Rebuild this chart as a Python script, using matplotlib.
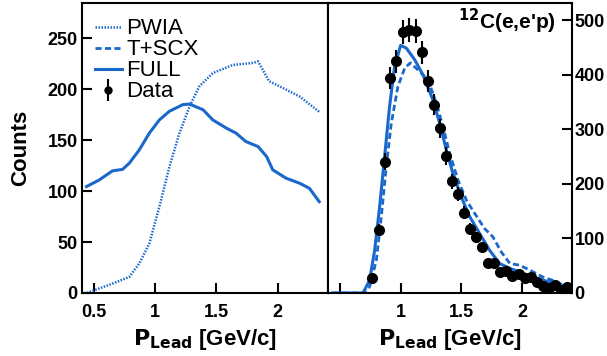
import matplotlib.pyplot as plt
from matplotlib.lines import Line2D

plt.rcParams['font.family'] = ['Liberation Sans', 'DejaVu Sans']

blue = '#1a68cc'

# left panel curves
pwia_x = [0.44, 0.5, 0.65, 0.787, 0.869, 0.951, 1.033, 1.115, 1.197, 1.279, 1.36,
          1.47, 1.634, 1.80, 1.84, 1.93, 2.016, 2.18, 2.34]
pwia_y = [0, 2.7, 9.2, 15.8, 29, 48.6, 84.7, 124, 157, 183, 203,
          216, 224, 226, 227.5, 208, 203, 193, 178]

full_l_x = [0.437, 0.541, 0.65, 0.732, 0.787, 0.869, 0.951, 1.033, 1.115, 1.225, 1.279,
            1.39, 1.47, 1.58, 1.66, 1.74, 1.84, 1.91, 1.96, 2.07, 2.18, 2.26, 2.34]
full_l_y = [104.5, 111, 120, 121.4, 127.5, 140.6, 157, 170, 178.5, 185, 185.6,
            180, 170, 162, 157, 148.8, 143.8, 134, 121, 112.7, 107.8, 102.8, 89.7]

# right panel curves
full_r_x = [0.44, 0.69, 0.744, 0.786, 0.827, 0.868, 0.909, 0.95, 1.0, 1.047, 1.115, 1.184,
            1.266, 1.322, 1.377, 1.431, 1.5, 1.569, 1.651, 1.734, 1.816, 1.9, 1.98,
            2.09, 2.228, 2.366]
full_r_y = [0, 0, 23, 78, 158, 250, 342, 415, 454, 449, 428, 400,
            354, 311, 262, 219, 176, 140, 109, 78, 54, 45, 39,
            29, 20, 11]

scx_x = [0.44, 0.69, 0.744, 0.8, 0.841, 0.882, 0.923, 0.978, 1.033, 1.08, 1.143, 1.225,
         1.294, 1.349, 1.404, 1.473, 1.542, 1.61, 1.692, 1.76, 1.83, 1.9, 1.98,
         2.063, 2.173, 2.256, 2.366]
scx_y = [0, 0, 11, 60, 140, 232, 311, 379, 412, 422, 409, 391,
         348, 305, 256, 207, 170, 146, 118, 103, 75, 54, 51,
         42, 29, 23, 12]

data_x = [0.763, 0.819, 0.868, 0.915, 0.965, 1.019, 1.068, 1.124, 1.173, 1.223, 1.272,
          1.322, 1.371, 1.423, 1.473, 1.522, 1.571, 1.621, 1.673, 1.723, 1.772, 1.822,
          1.871, 1.92, 1.973, 2.022, 2.072, 2.121, 2.171, 2.223, 2.272, 2.322, 2.371]
data_y = [27.6, 115, 241, 394, 425, 479, 483, 481, 441, 389, 345,
          302, 251, 205, 181, 147, 118, 102, 85, 55, 55, 39,
          40.5, 31, 35.6, 28, 29, 20, 13, 10, 14, 6, 11]
data_err = [5, 11, 16, 20, 21, 22, 22, 22, 21, 20, 19,
            17, 16, 14, 13, 12, 11, 10, 9, 7, 7, 6,
            6, 6, 6, 5, 5, 4, 4, 3, 4, 2, 3]

left_xticklabels = ['0.5', '1', '1.5', '2']
right_xticklabels = ['', '1', '1.5', '2']

fig = plt.figure(figsize=(6.07, 3.56), dpi=100)
ax1 = fig.add_axes([0.135, 0.177, 0.405, 0.815])
ax2 = fig.add_axes([0.540, 0.177, 0.402, 0.815])

ax1.plot(pwia_x, pwia_y, color=blue, lw=1.8, ls=(0, (0.6, 0.6)))
ax1.plot(full_l_x, full_l_y, color=blue, lw=2.2)

ax2.plot(scx_x, scx_y, color=blue, lw=2.0, ls=(0, (2.2, 1.2)))
ax2.plot(full_r_x, full_r_y, color=blue, lw=2.2)
ax2.errorbar(data_x, data_y, yerr=data_err, fmt='o', color='black', ms=7,
             elinewidth=1.5, capsize=0, zorder=5)

for ax, labs in ((ax1, left_xticklabels), (ax2, right_xticklabels)):
    ax.set_xlim(0.4, 2.41)
    ax.set_xticks([0.5, 1, 1.5, 2])
    ax.set_xticklabels(labs)
    for s in ax.spines.values():
        s.set_linewidth(1.5)
    ax.tick_params(direction='in', length=7, width=1.5, labelsize=13)
    ax.tick_params(axis='x', pad=8)
    ax.set_xlabel(r'$\mathbf{P_{Lead}}$ [GeV/c]', fontsize=16, fontweight='bold', labelpad=4)

ax1.set_ylim(0, 285)
ax1.set_yticks([0, 50, 100, 150, 200, 250])
ax1.tick_params(axis='y', pad=3)
ax1.set_ylabel('Counts', fontsize=16, fontweight='bold', labelpad=12)

ax2.set_ylim(0, 532)
ax2.set_yticks([0, 100, 200, 300, 400, 500])
ax2.yaxis.tick_right()
ax2.tick_params(axis='y', pad=2)

for ax in (ax1, ax2):
    for lab in ax.get_xticklabels() + ax.get_yticklabels():
        lab.set_fontweight('bold')

ax2.text(0.935, 0.935, r'$^{\mathbf{12}}$' + "C(e,e'p)", transform=ax2.transAxes,
         ha='right', va='center', fontsize=15, fontweight='bold')

handles = [
    Line2D([], [], color=blue, lw=1.8, ls=(0, (0.6, 0.6))),
    Line2D([], [], color=blue, lw=2.0, ls=(0, (2.2, 1.2))),
    Line2D([], [], color=blue, lw=2.2),
    ax2.errorbar([], [], yerr=[], fmt='o', color='black', ms=5, elinewidth=1.5),
]
ax1.legend(handles, ['PWIA', 'T+SCX', 'FULL', 'Data'], loc='upper left',
           bbox_to_anchor=(-0.01, 1.0), frameon=False, fontsize=16,
           handlelength=1.2, handletextpad=0.2, labelspacing=0.0, borderaxespad=0.3)

fig.savefig('out.png', dpi=100)
